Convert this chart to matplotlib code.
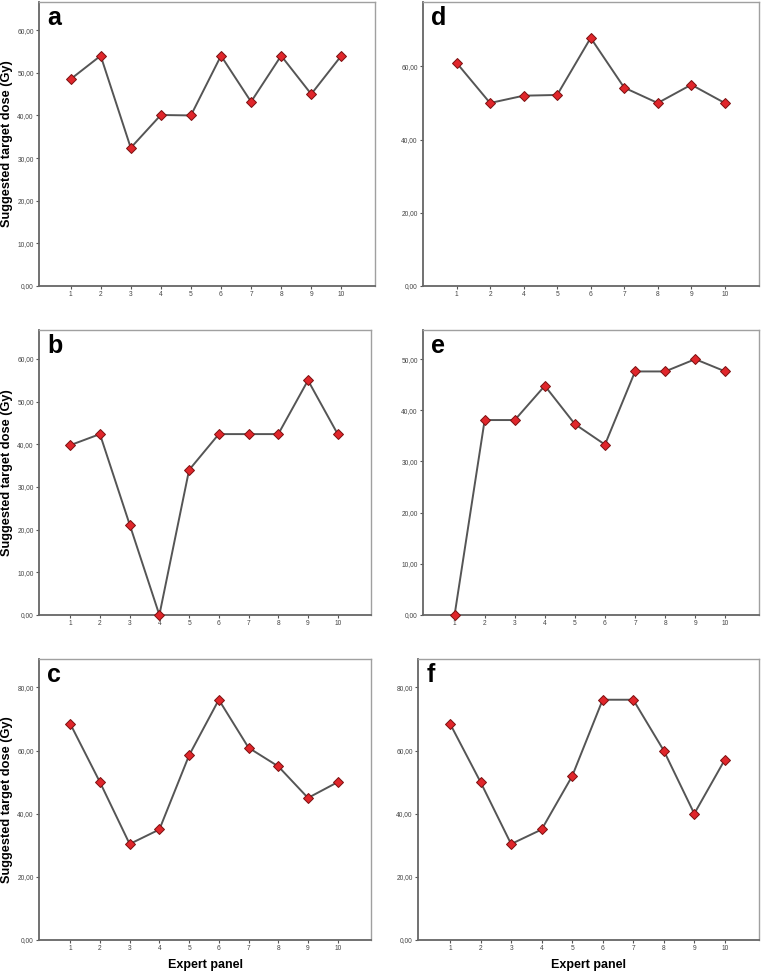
import numpy as np
import matplotlib.pyplot as plt

plt.rcParams['font.family'] = ['Liberation Sans', 'DejaVu Sans']

# Suggested target dose (Gy) per expert panel
cats_a = ['1', '2', '3', '4', '5', '6', '7', '8', '9', '10']
dose_a = [48.5, 54.0, 32.4, 40.1, 40.0, 54.0, 43.2, 54.0, 45.0, 54.0]

cats_b = ['1', '2', '3', '4', '5', '6', '7', '8', '9', '10']
dose_b = [39.8, 42.4, 21.2, 0.0, 34.0, 42.4, 42.4, 42.4, 55.0, 42.4]

cats_c = ['1', '2', '3', '4', '5', '6', '7', '8', '9', '10']
dose_c = [68.5, 50.0, 30.4, 35.0, 58.5, 76.1, 60.9, 55.0, 45.0, 50.0]

cats_d = ['1', '2', '4', '5', '6', '7', '8', '9', '10']
dose_d = [61.0, 50.0, 52.0, 52.2, 67.8, 54.2, 50.0, 55.0, 50.0]

cats_e = ['1', '2', '3', '4', '5', '6', '7', '8', '9', '10']
dose_e = [0.0, 38.1, 38.1, 44.8, 37.3, 33.3, 47.6, 47.6, 50.0, 47.6]

cats_f = ['1', '2', '3', '4', '5', '6', '7', '8', '9', '10']
dose_f = [68.5, 50.0, 30.4, 35.0, 51.9, 76.1, 76.1, 60.0, 40.0, 57.1]

W, H = 761, 974
fig = plt.figure(figsize=(W / 100, H / 100), dpi=100)


def box(l, r, t, b):
    return [l / W, 1 - b / H, (r - l) / W, (b - t) / H]


panels = [
    ('a', cats_a, dose_a, (39, 375, 2, 286), 66.6, [0, 10, 20, 30, 40, 50, 60], True, False),
    ('b', cats_b, dose_b, (39, 371, 330, 615), 66.8, [0, 10, 20, 30, 40, 50, 60], True, False),
    ('c', cats_c, dose_c, (39, 371, 659, 940), 89.0, [0, 20, 40, 60, 80], True, True),
    ('d', cats_d, dose_d, (423, 759, 2, 286), 77.6, [0, 20, 40, 60], False, False),
    ('e', cats_e, dose_e, (423, 759, 330, 615), 55.7, [0, 10, 20, 30, 40, 50], False, False),
    ('f', cats_f, dose_f, (418, 759, 659, 940), 89.0, [0, 20, 40, 60, 80], False, True),
]

for letter, cats, vals, px, ytop, yticks, ylab, xlab in panels:
    l, r, t, b = px
    ax = fig.add_axes(box(l, r, t, b))
    x = np.arange(1, len(cats) + 1)
    ax.plot(x, vals, color='#555555', lw=1.4, marker='D', markersize=5,
            markerfacecolor='#e0262b', markeredgecolor='#7a1010', markeredgewidth=0.7,
            clip_on=False, zorder=3)
    if len(cats) == 10:
        ax.set_xlim(-0.05, 11.12)
    else:
        ax.set_xlim(0, 10.02)
    ax.set_ylim(0, ytop)
    ax.set_xticks(x)
    ax.set_xticklabels(cats)
    ax.set_yticks(yticks)
    ax.set_yticklabels(['%d,00' % v for v in yticks])
    ax.tick_params(axis='both', labelsize=4.8, labelcolor='#444444', color='#555555',
                   length=2.5, width=0.8, direction='out', pad=1.2)
    for s in ['top', 'right']:
        ax.spines[s].set_color('#a0a0a0')
        ax.spines[s].set_linewidth(1.0)
    for s in ['left', 'bottom']:
        ax.spines[s].set_color('#666666')
        ax.spines[s].set_linewidth(1.3)
    ax.text(0.025, 0.985, letter, transform=ax.transAxes, fontsize=18,
            fontweight='bold', va='top', ha='left')
    if ylab:
        ax.set_ylabel('Suggested target dose (Gy)', fontsize=9.2, fontweight='bold',
                      va='center')
        ax.yaxis.set_label_coords((7 - l) / (r - l), 0.5)
    if xlab:
        ax.set_xlabel('Expert panel', fontsize=9, fontweight='bold', va='center')
        ax.xaxis.set_label_coords(0.5, (b - 965) / (b - t))

fig.savefig('out.png', dpi=100)
